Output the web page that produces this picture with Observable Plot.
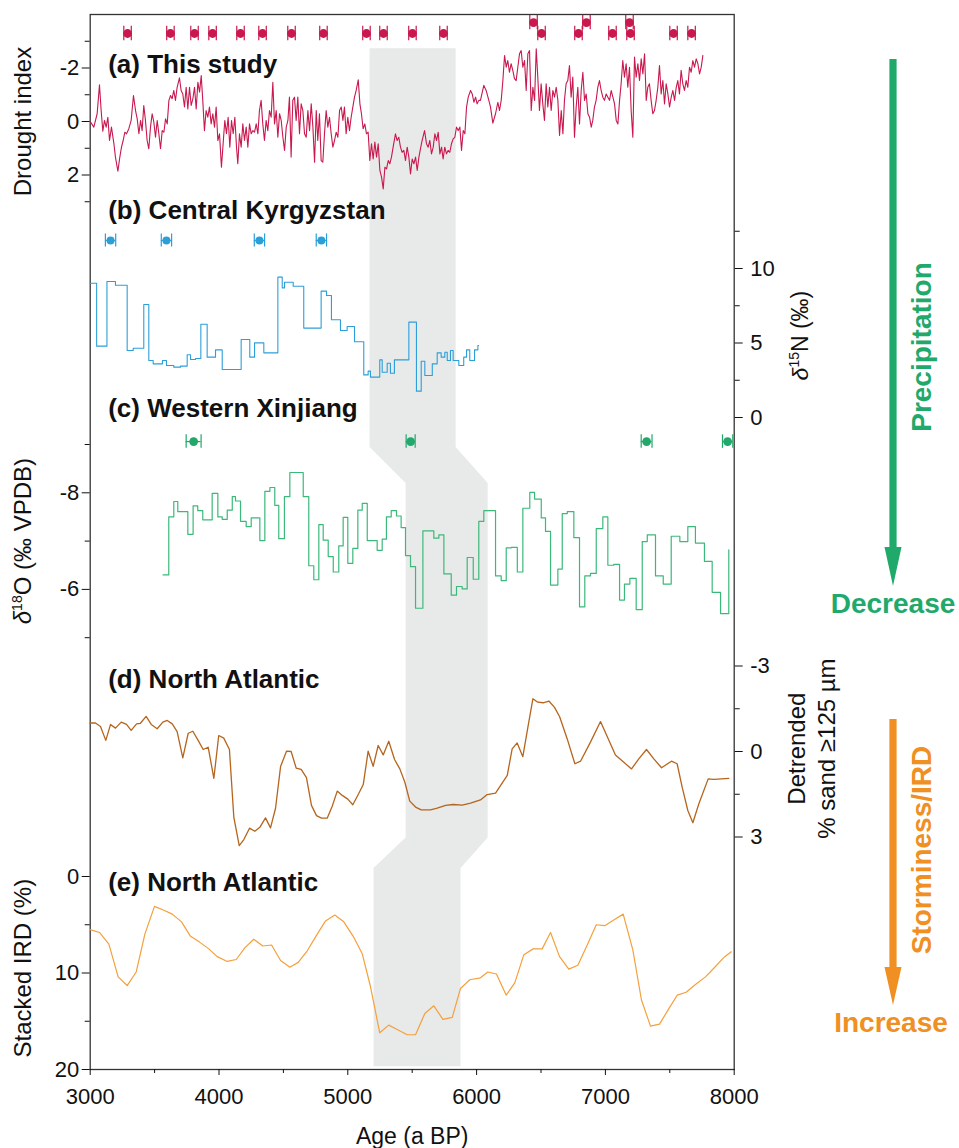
<!DOCTYPE html>
<html><head><meta charset="utf-8">
<script src="https://cdn.jsdelivr.net/npm/d3@7"></script>
<script src="https://cdn.jsdelivr.net/npm/@observablehq/plot@0.6"></script>
<style>
body{margin:0;background:#fff;}
#chart{position:relative;width:959px;height:1148px;}
#chart svg{position:absolute;left:0;top:0;overflow:visible;}
</style></head><body><div id="chart"></div>
<script>
// ---------------- DATA ----------------
const ageDomain = [3000, 8000];
const ageTicks = [3000, 4000, 5000, 6000, 7000, 8000];
const ageMinorTicks = [3500, 4500, 5500, 6500, 7500];

// (a) This study - drought index [age, value]
const droughtSeries = [[3000,0.00],[3028,0.21],[3054,-0.29],[3072,-1.37],[3085,-0.41],[3098,0.36],[3111,-0.04],[3124,0.21],[3137,-0.16],[3150,0.71],[3165,0.21],[3184,0.83],[3196,1.33],[3215,1.86],[3230,1.33],[3243,0.96],[3256,0.71],[3269,0.40],[3282,0.46],[3300,0.27],[3318,-0.04],[3336,-0.97],[3352,-0.41],[3365,-0.10],[3378,0.46],[3391,-0.04],[3403,0.34],[3416,-0.60],[3429,-0.04],[3442,0.71],[3455,1.02],[3468,0.21],[3481,-0.29],[3494,0.02],[3507,0.59],[3520,-0.04],[3533,0.46],[3546,1.02],[3559,0.34],[3572,0.40],[3585,-0.10],[3598,0.09],[3611,-0.79],[3624,-0.97],[3636,-0.85],[3649,-1.16],[3662,-0.79],[3675,-1.28],[3693,-1.63],[3706,-1.16],[3719,-1.03],[3732,-0.54],[3745,-1.28],[3758,-0.47],[3771,-1.28],[3784,-0.60],[3797,-0.85],[3810,-1.28],[3823,-0.47],[3836,-1.47],[3849,-1.10],[3862,-1.72],[3874,-0.79],[3887,0.34],[3900,-0.41],[3913,-0.16],[3926,-0.54],[3939,0.09],[3952,-0.29],[3965,0.21],[3978,-0.54],[3991,0.71],[4004,0.46],[4019,1.71],[4032,0.83],[4045,-0.04],[4058,0.46],[4071,-0.16],[4084,0.96],[4097,-0.04],[4110,0.46],[4123,-0.16],[4136,0.96],[4146,1.58],[4159,0.46],[4172,0.96],[4185,0.09],[4198,0.71],[4211,0.21],[4224,0.96],[4237,0.09],[4250,0.46],[4263,0.34],[4276,0.40],[4289,0.09],[4302,0.46],[4314,-0.41],[4327,-0.79],[4340,0.09],[4353,0.71],[4366,-0.04],[4379,0.34],[4392,-0.41],[4405,-0.16],[4418,-1.47],[4431,0.09],[4444,-0.41],[4457,0.59],[4470,-0.29],[4483,-0.04],[4496,0.59],[4509,1.08],[4522,0.21],[4535,-0.04],[4547,-0.91],[4560,1.33],[4573,-0.79],[4586,-0.91],[4599,-0.04],[4612,-0.91],[4625,0.46],[4638,-0.66],[4651,-0.41],[4664,0.46],[4677,0.59],[4690,-0.41],[4703,0.34],[4716,-0.66],[4729,0.21],[4742,1.52],[4755,-0.41],[4767,0.71],[4780,-0.29],[4793,1.46],[4806,1.52],[4819,0.46],[4832,-0.41],[4845,0.21],[4858,-0.16],[4871,0.46],[4884,0.96],[4897,0.71],[4910,0.40],[4923,0.59],[4936,-0.41],[4949,-0.54],[4962,-0.04],[4974,-0.54],[4987,0.46],[5000,-0.16],[5013,0.34],[5026,-0.16],[5039,-0.54],[5052,-0.91],[5065,-1.16],[5081,-1.56],[5094,-0.66],[5106,-0.29],[5119,0.27],[5132,0.09],[5145,0.46],[5158,0.40],[5171,1.46],[5184,0.83],[5197,1.40],[5210,0.77],[5223,1.33],[5236,0.83],[5249,1.83],[5262,2.08],[5275,2.52],[5288,1.71],[5301,1.77],[5314,1.46],[5326,1.58],[5339,1.33],[5352,0.96],[5370,0.46],[5383,0.71],[5396,0.59],[5409,0.96],[5422,1.15],[5435,1.08],[5448,1.46],[5461,0.96],[5474,1.33],[5487,1.96],[5500,1.40],[5513,1.58],[5526,1.33],[5539,1.83],[5552,1.33],[5564,1.02],[5577,0.71],[5596,0.34],[5611,0.83],[5624,0.96],[5637,0.71],[5650,1.21],[5663,0.96],[5676,0.46],[5689,0.71],[5702,0.40],[5715,1.21],[5728,0.96],[5740,1.40],[5753,0.96],[5766,1.21],[5779,1.08],[5792,1.15],[5805,0.83],[5818,0.65],[5831,0.59],[5844,0.21],[5857,0.34],[5870,0.21],[5883,1.08],[5896,0.34],[5909,0.46],[5922,-0.54],[5935,-0.91],[5953,-1.16],[5966,-1.03],[5979,-0.72],[5992,-0.91],[6004,-0.66],[6017,-0.79],[6030,-0.79],[6056,-1.35],[6074,-1.16],[6095,-0.79],[6108,-0.54],[6126,0.06],[6147,-0.29],[6165,-0.72],[6178,-0.41],[6191,-0.79],[6204,-1.53],[6217,-2.47],[6230,-2.03],[6242,-2.28],[6255,-1.84],[6268,-2.16],[6281,-1.91],[6294,-1.60],[6307,-1.53],[6320,-2.03],[6333,-2.53],[6346,-2.65],[6359,-2.03],[6372,-2.28],[6385,-1.16],[6398,-2.53],[6411,-2.65],[6424,-0.41],[6437,-1.28],[6450,-0.79],[6463,-2.72],[6475,-1.66],[6488,-0.41],[6501,-1.41],[6514,-0.66],[6527,-0.04],[6540,-1.41],[6553,-0.54],[6566,-1.28],[6579,-0.41],[6592,-1.16],[6605,-0.91],[6618,-1.28],[6631,-0.79],[6644,0.52],[6657,-0.41],[6670,0.46],[6682,-0.79],[6695,-1.41],[6708,-1.53],[6721,-2.09],[6734,-0.91],[6747,-1.66],[6760,0.59],[6773,-0.54],[6786,-1.28],[6799,0.09],[6812,-1.16],[6825,-1.84],[6838,-0.79],[6851,-1.03],[6864,-0.29],[6877,-0.16],[6890,0.21],[6902,-0.04],[6915,-0.54],[6928,-0.79],[6941,-1.28],[6954,-1.53],[6967,-1.16],[6980,-0.91],[6993,-0.79],[7006,-1.03],[7019,-0.91],[7032,-0.79],[7045,-1.16],[7058,-0.91],[7071,-0.66],[7084,-0.04],[7097,0.09],[7110,-0.79],[7122,-1.41],[7135,-2.28],[7148,-1.66],[7161,-2.16],[7174,-1.28],[7187,-2.03],[7200,-0.41],[7213,0.59],[7226,-2.41],[7239,-1.66],[7252,-2.16],[7265,-1.53],[7278,-2.34],[7291,-1.78],[7304,-2.53],[7317,-0.79],[7329,-1.28],[7342,-1.41],[7355,-0.79],[7368,-0.29],[7381,-0.41],[7394,-0.79],[7407,-1.28],[7420,-2.09],[7433,-1.03],[7446,-1.53],[7459,-0.66],[7472,-1.41],[7485,-1.03],[7498,-0.54],[7511,-0.91],[7524,-1.16],[7537,-0.79],[7550,-1.28],[7562,-1.53],[7575,-1.03],[7588,-1.91],[7601,-1.41],[7614,-1.16],[7627,-1.53],[7640,-1.28],[7653,-2.03],[7666,-1.84],[7679,-2.28],[7692,-2.03],[7705,-2.34],[7718,-2.16],[7731,-1.78],[7744,-2.03],[7757,-2.47]];
const datesA = [3290,3623,3810,3950,4167,4338,4563,4811,5145,5277,5502,5743,6442,6504,6791,6853,7055,7187,7195,7529,7669];
const datesARow = [0,0,0,0,0,0,0,0,0,0,0,0,1,0,0,1,0,1,0,0,0];
const datesAErr = 29;

// (b) Central Kyrgyzstan - d15N step series [age, value]
const kyrgyzSeries = [[3000,9.01],[3050,4.79],[3130,9.13],[3196,8.88],[3287,4.50],[3334,4.65],[3416,7.58],[3455,3.83],[3489,3.60],[3561,3.83],[3592,3.49],[3649,3.38],[3701,3.45],[3753,4.21],[3779,3.89],[3818,3.96],[3859,6.26],[3908,4.05],[3973,4.54],[4025,3.22],[4172,5.23],[4239,4.05],[4276,5.01],[4348,4.34],[4457,9.42],[4491,8.70],[4509,9.08],[4576,8.81],[4658,6.00],[4793,8.48],[4835,8.19],[4873,6.56],[4943,5.84],[4995,6.11],[5052,5.08],[5124,2.86],[5158,3.11],[5176,2.71],[5248,3.87],[5267,3.04],[5306,3.64],[5331,2.97],[5362,3.87],[5474,6.40],[5533,1.77],[5570,3.78],[5598,2.82],[5656,3.60],[5694,4.34],[5725,4.05],[5753,4.38],[5772,3.83],[5797,4.50],[5818,3.83],[5862,3.49],[5900,4.05],[5922,4.54],[5947,3.83],[5984,4.54],[6010,4.83],[6016,4.83]];
const datesB = [3158,3592,4314,4795];
const datesBErr = [40,40,40,40];

// (c) Western Xinjiang - d18O step series [age, value]
const xinjiangSeries = [[3566,-6.30],[3610,-7.50],[3649,-7.82],[3680,-7.61],[3758,-7.14],[3799,-7.73],[3835,-7.63],[3874,-7.44],[3947,-7.99],[3991,-7.50],[4025,-7.45],[4064,-7.64],[4103,-7.92],[4128,-7.83],[4167,-7.41],[4211,-7.30],[4250,-7.48],[4317,-7.01],[4356,-8.03],[4395,-8.11],[4433,-7.74],[4464,-7.05],[4508,-7.92],[4550,-8.42],[4654,-7.92],[4697,-6.49],[4736,-6.20],[4775,-7.34],[4809,-7.02],[4848,-6.68],[4887,-6.36],[4930,-6.90],[4964,-7.49],[5000,-6.54],[5039,-6.85],[5078,-7.64],[5112,-7.78],[5151,-7.01],[5228,-6.81],[5267,-7.04],[5300,-7.50],[5337,-7.63],[5378,-7.52],[5414,-7.28],[5448,-6.70],[5487,-6.47],[5526,-5.61],[5583,-7.21],[5668,-7.06],[5707,-7.13],[5746,-6.32],[5803,-5.88],[5844,-6.06],[5888,-6.01],[5927,-6.66],[5974,-6.21],[6017,-7.41],[6056,-7.63],[6147,-6.28],[6191,-6.18],[6230,-6.86],[6269,-6.87],[6316,-6.36],[6359,-7.68],[6413,-8.01],[6450,-7.87],[6502,-7.48],[6535,-7.20],[6574,-6.09],[6631,-6.42],[6665,-7.57],[6704,-7.61],[6755,-7.07],[6799,-5.64],[6840,-6.28],[6884,-6.33],[6929,-7.26],[6980,-7.50],[7019,-6.50],[7065,-6.52],[7110,-5.78],[7148,-6.11],[7190,-6.23],[7239,-5.58],[7286,-6.99],[7325,-7.13],[7389,-6.28],[7449,-6.11],[7511,-7.10],[7578,-6.99],[7640,-7.30],[7699,-6.96],[7769,-6.58],[7829,-5.94],[7894,-5.50],[7958,-6.82]];
const datesC = [3803,5488,7320,7949];
const datesCErr = [58,35,42,40];

// (d) North Atlantic - detrended % sand >=125 um [age, value]
const sandSeries = [[3000,-1.00],[3041,-1.00],[3080,-0.88],[3121,-0.39],[3158,-0.95],[3196,-0.82],[3241,-1.03],[3282,-0.95],[3318,-0.74],[3360,-0.97],[3390,-0.99],[3434,-1.23],[3474,-0.95],[3520,-0.80],[3564,-1.03],[3598,-1.09],[3637,-0.97],[3675,-0.70],[3719,0.22],[3761,-0.64],[3797,-0.71],[3838,-0.39],[3877,-0.07],[3916,-0.15],[3960,0.94],[3998,-0.56],[4037,-0.47],[4081,-0.07],[4115,2.30],[4157,3.30],[4193,3.09],[4237,2.69],[4278,2.80],[4317,2.66],[4361,2.33],[4400,2.68],[4439,1.99],[4478,0.53],[4524,-0.01],[4560,0.00],[4599,0.58],[4638,0.63],[4679,0.92],[4718,1.89],[4757,2.25],[4796,2.34],[4840,2.34],[4879,1.92],[4918,1.39],[4957,1.54],[5000,1.67],[5039,1.87],[5081,1.51],[5120,1.16],[5158,-0.01],[5197,0.52],[5236,-0.21],[5275,0.12],[5318,-0.36],[5363,0.28],[5404,0.61],[5443,1.08],[5481,1.74],[5526,1.95],[5570,2.05],[5642,2.05],[5694,1.99],[5759,1.89],[5818,1.86],[5888,1.88],[5953,1.81],[6030,1.70],[6082,1.51],[6147,1.46],[6238,0.84],[6276,-0.09],[6315,-0.30],[6359,0.18],[6398,-0.85],[6437,-1.85],[6475,-1.73],[6517,-1.71],[6561,-1.77],[6605,-1.55],[6644,-1.23],[6703,-0.45],[6763,0.43],[6807,0.34],[6884,-0.33],[6962,-1.05],[7078,0.12],[7143,0.38],[7203,0.61],[7259,0.26],[7319,-0.07],[7376,0.26],[7436,0.57],[7513,0.34],[7557,0.43],[7596,1.25],[7640,2.07],[7679,2.50],[7725,1.84],[7798,0.96],[7842,0.98],[7958,0.94]];

// (e) North Atlantic - stacked IRD (%) [age, value]
const irdSeries = [[3000,5.5],[3072,5.8],[3145,7.0],[3217,10.4],[3287,11.3],[3357,9.9],[3424,6.0],[3499,3.1],[3572,3.5],[3637,3.9],[3709,4.7],[3779,6.2],[3849,6.8],[3921,7.5],[3986,8.3],[4064,8.8],[4134,8.6],[4200,7.4],[4270,6.5],[4340,7.2],[4408,7.1],[4478,8.7],[4550,9.4],[4615,8.9],[4685,7.7],[4757,6.1],[4827,4.6],[4899,4.0],[4969,4.7],[5042,6.2],[5112,8.0],[5176,11.4],[5248,16.2],[5318,15.4],[5391,15.9],[5461,16.4],[5526,16.4],[5598,14.2],[5668,13.4],[5738,14.8],[5811,14.6],[5875,11.6],[5947,10.7],[6030,10.5],[6087,9.9],[6154,10.1],[6230,12.3],[6297,11.0],[6367,8.1],[6439,7.5],[6509,7.5],[6574,5.8],[6644,8.3],[6716,9.6],[6786,9.2],[6859,7.1],[6929,5.0],[6995,5.1],[7065,4.5],[7138,3.9],[7213,7.6],[7280,12.8],[7350,15.5],[7420,15.3],[7488,13.8],[7557,12.3],[7627,12.0],[7699,11.2],[7777,10.4],[7849,9.4],[7919,8.4],[7977,7.8]];

// grey event band: [age, relative stack position 0 (top) .. 100 (bottom)]
const eventBand = [[5169,3.2],[5169,41.0],[5449,44.4],[5449,78.0],[5200,80.9],[5200,99.7],[5875,99.7],[5875,80.9],[6086,78.0],[6086,44.4],[5837,41.0],[5837,3.2],[5169,3.2]];

const panelTitles = ["(a) This study","(b) Central Kyrgyzstan","(c) Western Xinjiang","(d) North Atlantic","(e) North Atlantic"];

// ---------------- LAYOUT ----------------
const W = 959, H = 1148;
const X0 = 89.7, X1 = 733.7, Y0 = 14, Y1 = 1069;
const FONT = '"Liberation Sans", Arial, Helvetica, sans-serif';
const C = {red:"#c8184e", blue:"#2c9fd8", green:"#3bb97a", greenDot:"#22a86a", brown:"#b5651d", orange:"#f4a03c", shade:"#e8e9e9", arrowG:"#1fa96b", arrowO:"#f08f22"};

function layer(yOpts, marks) {
  return Plot.plot({
    width: W, height: H,
    marginLeft: X0, marginRight: W - X1, marginTop: Y0, marginBottom: H - Y1,
    x: {domain: ageDomain, range: [X0, X1], axis: null},
    y: yOpts,
    style: {background: "transparent", fontFamily: FONT, fontSize: "22px", color: "#111", overflow: "visible"},
    marks
  });
}
function yAxes(anchor, major, minor) {
  return [
    Plot.axisY({anchor, ticks: major, tickSize: 8, tickPadding: anchor === "left" ? 3 : 8, tickFormat: d => String(d), label: null, fontSize: 22}),
    Plot.axisY({anchor, ticks: minor, tickSize: 5, tickFormat: () => "", label: null})
  ];
}
function dating(ages, ys, errs, halfCap, color, r) {
  return [
    Plot.ruleY(ages, {x1: (d, i) => d - errs[i], x2: (d, i) => d + errs[i], y: ys, stroke: color, strokeWidth: 1.2}),
    Plot.ruleX(ages, {x: (d, i) => d - errs[i], y1: (d, i) => ys[i] - halfCap, y2: (d, i) => ys[i] + halfCap, stroke: color, strokeWidth: 1.2}),
    Plot.ruleX(ages, {x: (d, i) => d + errs[i], y1: (d, i) => ys[i] - halfCap, y2: (d, i) => ys[i] + halfCap, stroke: color, strokeWidth: 1.2}),
    Plot.dot(ages, {x: d => d, y: ys, r, fill: color, stroke: null})
  ];
}
const titleDy = [58, 204, 402, 673, 876];

const base = layer({domain: [0, 100], range: [Y0, Y1], axis: null}, [
  Plot.line(eventBand, {x: d => d[0], y: d => d[1], fill: C.shade, stroke: null, curve: "linear"}),
  Plot.frame({stroke: "#333", strokeWidth: 1.3}),
  Plot.axisX({anchor: "bottom", ticks: ageTicks, tickSize: 6, tickPadding: 13, tickFormat: d => String(d), label: null, fontSize: 22}),
  Plot.axisX({anchor: "bottom", ticks: ageMinorTicks, tickSize: 4, tickFormat: () => "", label: null}),
  Plot.text(["Age (a BP)"], {frameAnchor: "bottom", dy: 67, lineAnchor: "middle", textAnchor: "middle", fontSize: 23}),
  ...panelTitles.map((t, i) => Plot.text([t], {frameAnchor: "top-left", dx: 18, dy: titleDy[i], lineAnchor: "bottom", textAnchor: "start", fontWeight: "bold", fontSize: 26, fill: "#111"}))
]);

const pA = layer({domain: [-4, 3], range: [14, 201.25]}, [
  ...yAxes("left", [-2, 0, 2], [-3, -1, 1, 3]),
  Plot.line(droughtSeries, {x: d => d[0], y: d => d[1], stroke: C.red, strokeWidth: 1.1}),
  ...dating(datesA, datesARow.map(r => r ? -3.70 : -3.29), datesA.map(() => datesAErr), 0.27, C.red, 4.4),
  Plot.text(["Drought index"], {frameAnchor: "left", y: [0], dx: -67, rotate: -90, textAnchor: "middle", lineAnchor: "middle", fontSize: 24})
]);

const pB = layer({domain: [12.5, 0], range: [230.75, 417]}, [
  ...yAxes("right", [0, 5, 10], [2.5, 7.5, 12.5]),
  Plot.line(kyrgyzSeries, {x: d => d[0], y: d => d[1], stroke: C.blue, strokeWidth: 1.1, curve: "step-after"}),
  ...dating(datesB, datesB.map(() => 11.88), datesBErr, 0.44, C.blue, 4),
  Plot.text(["δ15N (‰)"], {frameAnchor: "right", y: [5.5], dx: 66, rotate: -90, textAnchor: "middle", lineAnchor: "middle", fontSize: 23})
]);

const pC = layer({domain: [-9.5, -5], range: [419.85, 637.2]}, [
  ...yAxes("left", [-8, -6], [-9, -7, -5]),
  Plot.line(xinjiangSeries, {x: d => d[0], y: d => d[1], stroke: C.green, strokeWidth: 1.2, curve: "step-after"}),
  ...dating(datesC, datesC.map(() => -9.06), datesCErr, 0.14, C.greenDot, 4.4),
  Plot.text(["δ18O (‰ VPDB)"], {frameAnchor: "left", y: [-7], dx: -67, rotate: -90, textAnchor: "middle", lineAnchor: "middle", fontSize: 24})
]);

const pD = layer({domain: [-3, 3], range: [665.5, 836.5]}, [
  ...yAxes("right", [-3, 0, 3], [-1.5, 1.5]),
  Plot.line(sandSeries, {x: d => d[0], y: d => d[1], stroke: C.brown, strokeWidth: 1.3}),
  Plot.text(["Detrended\n% sand ≥125 µm"], {frameAnchor: "right", y: [-0.1], dx: 76, rotate: -90, textAnchor: "middle", lineAnchor: "middle", lineHeight: 1.25, fontSize: 24})
]);

const pE = layer({domain: [0, 20], range: [876, 1069]}, [
  ...yAxes("left", [0, 10, 20], [5, 15]),
  Plot.line(irdSeries, {x: d => d[0], y: d => d[1], stroke: C.orange, strokeWidth: 1.2}),
  Plot.text(["Stacked IRD (%)"], {frameAnchor: "left", y: [9.5], dx: -67, rotate: -90, textAnchor: "middle", lineAnchor: "middle", fontSize: 24})
]);

const chart = document.getElementById("chart");
[base, pA, pB, pC, pD, pE].forEach(s => chart.appendChild(s));

// rich text for isotope labels
function richLabel(svg, plain, parts) {
  svg.querySelectorAll("text").forEach(t => {
    if (t.textContent === plain) {
      const target = t.querySelector("tspan") || t;
      while (target.firstChild) target.removeChild(target.firstChild);
      parts.forEach(([txt, opts]) => {
        const ts = document.createElementNS("http://www.w3.org/2000/svg", "tspan");
        ts.textContent = txt;
        Object.entries(opts || {}).forEach(([k, v]) => ts.setAttribute(k, v));
        target.appendChild(ts);
      });
    }
  });
}
richLabel(pB, "δ15N (‰)", [["δ", {"font-style": "italic"}], ["15", {"font-size": "14", "dy": "-9"}], ["N (‰)", {"dy": "9"}]]);
richLabel(pC, "δ18O (‰ VPDB)", [["δ", {"font-style": "italic"}], ["18", {"font-size": "14", "dy": "-9"}], ["O (‰ VPDB)", {"dy": "9"}]]);

// right-hand interpretation arrows
const ann = d3.create("svg").attr("width", W).attr("height", H).style("font-family", FONT);
function arrow(x, y0, y1, headLen, color) {
  ann.append("rect").attr("x", x - 3.6).attr("y", y0).attr("width", 7.2).attr("height", y1 - headLen - y0 + 2).attr("fill", color);
  ann.append("polygon").attr("points", `${x - 8.5},${y1 - headLen} ${x + 8.5},${y1 - headLen} ${x},${y1}`).attr("fill", color);
}
arrow(893, 59, 586, 39, C.arrowG);
arrow(893, 719, 1005, 38, C.arrowO);
function label(txt, x, y, color, rot) {
  const t = ann.append("text").attr("x", x).attr("y", y).attr("fill", color).attr("font-size", 28).attr("font-weight", "bold").attr("text-anchor", "middle").attr("dominant-baseline", rot ? "central" : "auto").text(txt);
  if (rot) t.attr("transform", `rotate(-90 ${x} ${y})`);
}
label("Precipitation", 921, 347, C.arrowG, true);
label("Decrease", 893, 613, C.arrowG, false);
label("Storminess/IRD", 921, 850, C.arrowO, true);
label("Increase", 891, 1032, C.arrowO, false);
chart.appendChild(ann.node());
</script></body></html>
